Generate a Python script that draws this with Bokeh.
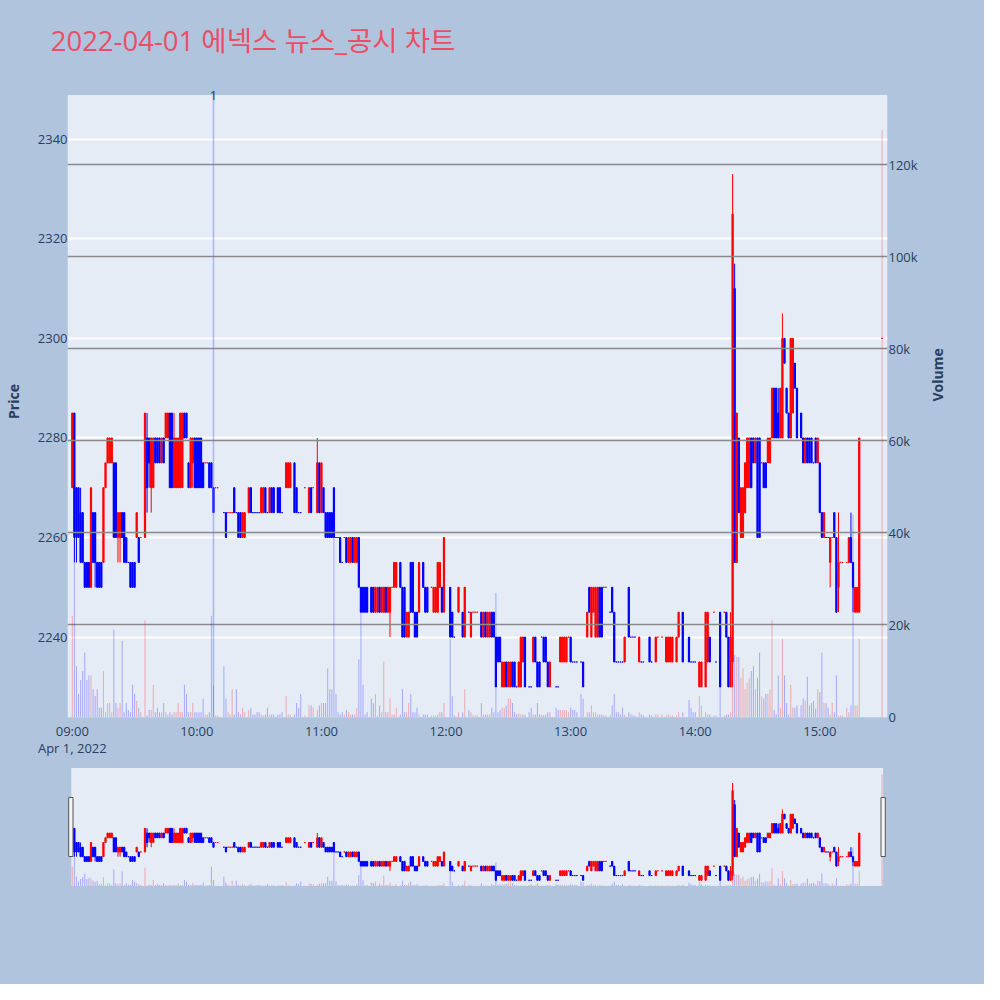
import math
from bokeh.plotting import figure
from bokeh.models import (Range1d, LinearAxis, FixedTicker, NumeralTickFormatter,
                          Label, ColumnDataSource)
from bokeh.layouts import column
from bokeh.embed import file_html
from bokeh.resources import INLINE

title_text = "2022-04-01 에넥스 뉴스_공시 차트"
price_title = "Price"
volume_title = "Volume"
tick_minutes = [0, 60, 120, 180, 240, 300, 360]
tick_labels = ["09:00\nApr 1, 2022", "10:00", "11:00", "12:00", "13:00", "14:00", "15:00"]
price_ticks = [2240, 2260, 2280, 2300, 2320, 2340]
volume_ticks = [0, 20000, 40000, 60000, 80000, 100000, 120000]
event_minutes = [68]
event_labels = ["1"]

# minutes after 09:00
minutes = [0, 1, 2, 3, 4, 5, 6, 7, 8, 9, 10, 11, 12, 13, 14, 15, 16, 17, 18, 19,
           20, 21, 22, 23, 24, 25, 26, 27, 28, 29, 30, 31, 32, 33, 35, 36, 37, 38, 39, 40,
           41, 42, 43, 44, 45, 46, 47, 48, 49, 50, 51, 52, 53, 54, 55, 56, 57, 58, 59, 60,
           61, 62, 63, 64, 65, 66, 67, 68, 69, 70, 73, 74, 75, 76, 77, 78, 79, 80, 81, 82,
           83, 85, 86, 87, 88, 89, 90, 91, 92, 93, 94, 95, 96, 97, 99, 100, 101, 103, 104, 105,
           107, 108, 109, 110, 112, 114, 115, 116, 118, 119, 120, 121, 122, 123, 124, 125, 126, 127, 128, 129,
           130, 131, 132, 133, 134, 135, 136, 137, 138, 139, 140, 141, 142, 144, 145, 146, 147, 148, 149, 150,
           151, 152, 153, 154, 155, 156, 158, 159, 160, 161, 162, 163, 164, 165, 166, 167, 169, 170, 171, 173,
           174, 175, 176, 177, 178, 179, 182, 183, 184, 186, 188, 189, 191, 192, 193, 194, 195, 197, 198, 199,
           200, 201, 202, 203, 204, 205, 206, 207, 208, 209, 210, 211, 212, 213, 214, 215, 216, 217, 218, 220,
           221, 222, 223, 224, 225, 226, 227, 228, 229, 230, 233, 234, 235, 236, 237, 238, 239, 240, 241, 242,
           243, 245, 246, 248, 249, 250, 251, 252, 253, 254, 255, 256, 257, 259, 260, 261, 262, 263, 264, 265,
           266, 268, 269, 270, 271, 273, 274, 275, 278, 279, 281, 282, 284, 286, 287, 288, 289, 291, 292, 294,
           297, 298, 299, 300, 302, 303, 305, 306, 307, 309, 310, 312, 314, 315, 316, 317, 318, 319, 320, 321,
           322, 323, 324, 325, 326, 327, 328, 329, 330, 331, 332, 333, 334, 335, 336, 337, 338, 339, 340, 341,
           342, 343, 344, 345, 346, 347, 348, 349, 351, 352, 353, 354, 355, 356, 357, 358, 359, 360, 361, 362,
           363, 364, 365, 366, 367, 368, 369, 370, 371, 373, 374, 375, 376, 377, 378, 379, 390]

opens = [2270, 2285, 2270, 2270, 2265, 2265, 2255, 2255, 2255, 2250, 2265, 2265, 2255, 2255, 2255, 2255, 2270, 2275, 2275, 2275,
         2275, 2275, 2260, 2260, 2265, 2265, 2260, 2255, 2255, 2255, 2255, 2260, 2260, 2260, 2260, 2280, 2280, 2270, 2270, 2280,
         2280, 2280, 2275, 2280, 2280, 2280, 2285, 2285, 2270, 2270, 2270, 2270, 2270, 2285, 2285, 2275, 2270, 2275, 2280, 2280,
         2280, 2280, 2275, 2275, 2275, 2275, 2275, 2270, 2270, 2270, 2265, 2265, 2265, 2265, 2265, 2270, 2265, 2265, 2265, 2260,
         2260, 2265, 2270, 2265, 2265, 2265, 2265, 2265, 2265, 2270, 2265, 2265, 2270, 2270, 2270, 2270, 2265, 2270, 2270, 2270,
         2275, 2270, 2265, 2265, 2270, 2265, 2270, 2270, 2265, 2275, 2265, 2270, 2265, 2265, 2265, 2265, 2270, 2260, 2260, 2260,
         2255, 2260, 2260, 2255, 2255, 2260, 2255, 2255, 2260, 2250, 2250, 2250, 2250, 2250, 2250, 2245, 2245, 2250, 2245, 2245,
         2250, 2245, 2245, 2250, 2250, 2250, 2255, 2250, 2250, 2240, 2240, 2255, 2255, 2245, 2245, 2245, 2255, 2250, 2250, 2250,
         2245, 2245, 2245, 2250, 2250, 2245, 2250, 2245, 2240, 2245, 2245, 2240, 2245, 2240, 2245, 2245, 2245, 2245, 2240, 2245,
         2240, 2240, 2245, 2245, 2240, 2240, 2240, 2230, 2230, 2235, 2230, 2230, 2235, 2235, 2230, 2230, 2230, 2235, 2240, 2230,
         2230, 2235, 2240, 2235, 2235, 2240, 2240, 2240, 2235, 2230, 2230, 2230, 2235, 2235, 2235, 2235, 2240, 2240, 2235, 2235,
         2235, 2235, 2235, 2240, 2250, 2240, 2245, 2240, 2240, 2250, 2250, 2250, 2250, 2245, 2250, 2245, 2235, 2235, 2235, 2235,
         2235, 2250, 2240, 2240, 2240, 2235, 2235, 2235, 2240, 2235, 2235, 2240, 2240, 2235, 2235, 2235, 2235, 2235, 2240, 2245,
         2240, 2235, 2235, 2235, 2230, 2230, 2230, 2235, 2240, 2245, 2235, 2245, 2245, 2245, 2240, 2230, 2235, 2310, 2255, 2280,
         2260, 2260, 2265, 2270, 2270, 2280, 2280, 2275, 2280, 2280, 2275, 2275, 2275, 2275, 2275, 2280, 2290, 2290, 2285, 2280,
         2280, 2300, 2290, 2285, 2280, 2285, 2295, 2290, 2285, 2280, 2275, 2280, 2280, 2280, 2275, 2280, 2275, 2275, 2265, 2260,
         2260, 2260, 2255, 2260, 2265, 2260, 2250, 2255, 2255, 2255, 2255, 2260, 2255, 2245, 2245, 2245, 2300]

highs = [2285, 2285, 2270, 2270, 2270, 2265, 2255, 2255, 2255, 2270, 2265, 2265, 2255, 2255, 2255, 2270, 2275, 2280, 2280, 2280,
         2275, 2275, 2265, 2265, 2265, 2265, 2260, 2255, 2255, 2255, 2255, 2265, 2260, 2260, 2285, 2285, 2280, 2280, 2280, 2280,
         2280, 2280, 2280, 2280, 2285, 2285, 2285, 2285, 2285, 2280, 2280, 2285, 2285, 2285, 2285, 2275, 2280, 2280, 2280, 2280,
         2280, 2280, 2275, 2275, 2275, 2275, 2275, 2270, 2270, 2270, 2265, 2265, 2265, 2265, 2265, 2270, 2265, 2265, 2265, 2265,
         2265, 2270, 2270, 2265, 2265, 2265, 2265, 2270, 2270, 2270, 2265, 2270, 2270, 2270, 2270, 2270, 2265, 2275, 2275, 2275,
         2275, 2270, 2265, 2265, 2270, 2270, 2270, 2270, 2280, 2275, 2275, 2270, 2265, 2265, 2265, 2265, 2270, 2260, 2260, 2260,
         2255, 2260, 2260, 2260, 2260, 2260, 2260, 2260, 2260, 2250, 2250, 2250, 2250, 2250, 2250, 2250, 2250, 2250, 2250, 2250,
         2250, 2250, 2250, 2250, 2255, 2255, 2255, 2250, 2250, 2245, 2245, 2255, 2255, 2245, 2245, 2255, 2255, 2250, 2250, 2250,
         2250, 2250, 2255, 2255, 2250, 2260, 2250, 2245, 2240, 2250, 2245, 2250, 2245, 2245, 2245, 2245, 2245, 2245, 2245, 2245,
         2245, 2245, 2245, 2245, 2240, 2240, 2240, 2235, 2235, 2235, 2235, 2235, 2235, 2235, 2230, 2235, 2240, 2240, 2240, 2230,
         2230, 2240, 2240, 2235, 2235, 2240, 2240, 2240, 2235, 2235, 2230, 2230, 2240, 2240, 2240, 2240, 2240, 2240, 2235, 2235,
         2235, 2235, 2235, 2245, 2250, 2250, 2250, 2250, 2250, 2250, 2250, 2250, 2250, 2245, 2250, 2245, 2235, 2235, 2235, 2235,
         2240, 2250, 2240, 2240, 2240, 2240, 2235, 2235, 2240, 2235, 2240, 2240, 2240, 2240, 2240, 2240, 2240, 2240, 2245, 2245,
         2240, 2235, 2235, 2235, 2235, 2235, 2245, 2245, 2240, 2245, 2235, 2245, 2245, 2245, 2240, 2245, 2333, 2315, 2285, 2280,
         2270, 2270, 2275, 2280, 2280, 2280, 2280, 2280, 2280, 2280, 2275, 2275, 2275, 2280, 2280, 2290, 2290, 2290, 2290, 2290,
         2305, 2300, 2290, 2285, 2300, 2300, 2295, 2290, 2285, 2280, 2280, 2280, 2280, 2280, 2275, 2280, 2280, 2275, 2265, 2265,
         2260, 2260, 2260, 2260, 2265, 2260, 2265, 2255, 2255, 2255, 2260, 2265, 2255, 2250, 2250, 2280, 2300]

lows = [2270, 2255, 2255, 2260, 2255, 2255, 2250, 2250, 2250, 2250, 2255, 2250, 2250, 2250, 2250, 2255, 2270, 2275, 2275, 2275,
        2260, 2260, 2255, 2255, 2260, 2255, 2255, 2255, 2250, 2250, 2250, 2260, 2255, 2260, 2260, 2265, 2270, 2265, 2270, 2275,
        2275, 2275, 2275, 2275, 2280, 2280, 2270, 2270, 2270, 2270, 2270, 2270, 2270, 2280, 2280, 2270, 2270, 2270, 2270, 2270,
        2270, 2270, 2270, 2275, 2275, 2270, 2270, 2265, 2270, 2270, 2265, 2260, 2265, 2265, 2265, 2265, 2265, 2260, 2260, 2260,
        2260, 2265, 2265, 2265, 2265, 2265, 2265, 2265, 2265, 2265, 2265, 2265, 2265, 2265, 2265, 2265, 2265, 2270, 2270, 2270,
        2265, 2265, 2265, 2265, 2270, 2265, 2265, 2270, 2265, 2265, 2265, 2265, 2260, 2260, 2260, 2260, 2260, 2260, 2260, 2255,
        2255, 2260, 2255, 2255, 2255, 2255, 2255, 2255, 2250, 2245, 2245, 2245, 2245, 2245, 2245, 2245, 2245, 2245, 2245, 2245,
        2245, 2245, 2240, 2250, 2250, 2250, 2250, 2240, 2240, 2240, 2240, 2245, 2245, 2240, 2240, 2245, 2250, 2245, 2245, 2250,
        2245, 2245, 2245, 2250, 2245, 2245, 2240, 2240, 2240, 2245, 2240, 2240, 2245, 2240, 2245, 2245, 2245, 2240, 2240, 2240,
        2240, 2240, 2240, 2240, 2230, 2235, 2235, 2230, 2230, 2230, 2230, 2230, 2230, 2230, 2230, 2230, 2230, 2235, 2230, 2230,
        2230, 2235, 2235, 2230, 2230, 2240, 2235, 2235, 2230, 2230, 2230, 2230, 2235, 2235, 2235, 2235, 2240, 2235, 2235, 2235,
        2235, 2235, 2230, 2240, 2245, 2240, 2245, 2240, 2240, 2240, 2240, 2250, 2250, 2245, 2245, 2235, 2235, 2235, 2235, 2235,
        2235, 2240, 2240, 2240, 2240, 2235, 2235, 2235, 2235, 2235, 2235, 2240, 2240, 2235, 2235, 2235, 2235, 2235, 2240, 2235,
        2235, 2235, 2235, 2235, 2230, 2230, 2230, 2235, 2235, 2245, 2235, 2230, 2245, 2240, 2230, 2230, 2230, 2255, 2255, 2265,
        2260, 2260, 2265, 2270, 2270, 2270, 2275, 2275, 2260, 2260, 2275, 2270, 2270, 2275, 2275, 2280, 2280, 2280, 2280, 2280,
        2280, 2295, 2285, 2280, 2280, 2285, 2290, 2280, 2280, 2275, 2275, 2275, 2275, 2275, 2275, 2275, 2275, 2265, 2260, 2260,
        2260, 2260, 2250, 2260, 2260, 2245, 2245, 2255, 2255, 2255, 2255, 2255, 2245, 2245, 2245, 2245, 2300]

closes = [2285, 2260, 2260, 2260, 2255, 2255, 2250, 2250, 2250, 2270, 2255, 2255, 2250, 2250, 2250, 2270, 2275, 2280, 2280, 2280,
          2260, 2260, 2265, 2265, 2260, 2255, 2255, 2255, 2250, 2250, 2250, 2265, 2255, 2260, 2285, 2270, 2275, 2280, 2280, 2275,
          2275, 2275, 2280, 2275, 2285, 2285, 2270, 2270, 2280, 2280, 2280, 2285, 2285, 2280, 2280, 2270, 2280, 2280, 2270, 2270,
          2270, 2270, 2270, 2275, 2275, 2270, 2270, 2265, 2270, 2270, 2265, 2260, 2265, 2265, 2265, 2265, 2265, 2260, 2260, 2265,
          2265, 2270, 2265, 2265, 2265, 2265, 2265, 2270, 2270, 2265, 2265, 2270, 2265, 2265, 2265, 2265, 2265, 2275, 2275, 2275,
          2265, 2265, 2265, 2265, 2270, 2270, 2265, 2270, 2275, 2265, 2275, 2265, 2260, 2260, 2260, 2260, 2260, 2260, 2260, 2255,
          2255, 2260, 2255, 2260, 2260, 2255, 2260, 2260, 2250, 2245, 2245, 2245, 2245, 2245, 2245, 2250, 2250, 2245, 2250, 2250,
          2245, 2250, 2250, 2250, 2255, 2255, 2250, 2240, 2240, 2245, 2245, 2245, 2245, 2240, 2240, 2255, 2250, 2245, 2245, 2250,
          2250, 2250, 2255, 2255, 2245, 2260, 2240, 2240, 2240, 2250, 2240, 2250, 2245, 2245, 2245, 2245, 2245, 2240, 2245, 2240,
          2245, 2245, 2240, 2240, 2230, 2235, 2235, 2235, 2235, 2230, 2235, 2235, 2230, 2230, 2230, 2235, 2240, 2240, 2230, 2230,
          2230, 2240, 2235, 2230, 2230, 2240, 2235, 2235, 2230, 2235, 2230, 2230, 2240, 2240, 2240, 2240, 2240, 2235, 2235, 2235,
          2235, 2235, 2230, 2245, 2245, 2250, 2250, 2250, 2250, 2240, 2240, 2250, 2250, 2245, 2245, 2235, 2235, 2235, 2235, 2235,
          2240, 2240, 2240, 2240, 2240, 2240, 2235, 2235, 2235, 2235, 2240, 2240, 2240, 2240, 2240, 2240, 2240, 2240, 2245, 2235,
          2235, 2235, 2235, 2235, 2235, 2235, 2245, 2245, 2235, 2245, 2235, 2230, 2245, 2240, 2230, 2240, 2325, 2255, 2285, 2265,
          2270, 2270, 2275, 2280, 2280, 2270, 2275, 2280, 2260, 2260, 2275, 2270, 2270, 2280, 2280, 2290, 2280, 2280, 2280, 2290,
          2300, 2295, 2285, 2280, 2300, 2300, 2290, 2280, 2280, 2275, 2280, 2275, 2275, 2275, 2275, 2275, 2280, 2265, 2260, 2265,
          2260, 2260, 2260, 2260, 2260, 2245, 2255, 2255, 2255, 2255, 2260, 2255, 2250, 2250, 2250, 2280, 2300]

# volume in thousands of shares
volumes_k = [22, 38, 11, 5, 8, 10, 14, 8, 9, 9, 6, 4.6, 6, 2, 2, 10, 1, 3, 3, 1,
             19, 3, 2, 3, 16.5, 1, 3, 1.5, 1, 7, 5, 3.5, 2, 1, 21, 0.3, 1.5, 1.5, 7, 1,
             2, 1, 1, 3, 1, 0.5, 1, 0.5, 1, 1, 3, 1, 1, 7, 5, 1, 1, 3, 1, 1,
             1, 1, 4, 0.5, 0.5, 1, 22, 7, 0.3, 0.3, 11, 4, 1, 0.5, 6, 0.5, 6, 1, 0.5, 2,
             1, 1.5, 2, 0.5, 0.5, 1, 1, 0.5, 0.3, 0.5, 2, 0.5, 0.5, 0.5, 0.5, 0.5, 1, 4.5, 0.5, 0.5,
             0.5, 3, 2, 5, 0.3, 2.5, 2.5, 2, 1.5, 2.5, 3, 3, 3, 10.5, 6, 6, 47, 5, 1, 0.5,
             1, 0.5, 1.5, 1, 0.5, 0.5, 0.5, 2, 12.5, 28, 7, 0.5, 1, 4, 3, 5, 0.3, 2.5, 1, 12,
             1, 1, 4, 0.5, 0.5, 2, 0.5, 6, 1, 1, 3, 5, 1, 1, 2, 0.5, 0.5, 0.5, 0.5, 0.3,
             0.3, 0.3, 0.5, 1, 1, 3, 17, 4.5, 0.3, 1, 1, 6, 1.5, 1, 0.3, 0.3, 0.3, 3, 0.5, 0.5,
             0.5, 0.5, 2, 1, 27, 1, 1.5, 2, 2, 2.5, 4, 4, 3, 1, 0.5, 0.8, 0.5, 0.5, 0.5, 1,
             2, 0.5, 0.5, 3, 0.5, 0.5, 0.3, 0.5, 1, 1, 2, 1.5, 1.5, 1.5, 1.5, 1.5, 1, 2, 1.5, 1.5,
             1, 5, 4, 1, 1, 2.5, 1, 1, 0.5, 0.5, 0.5, 0.3, 0.3, 0.3, 2.5, 5, 1, 1, 0.5, 2,
             0.5, 1, 0.5, 0.3, 0.3, 1, 0.5, 0.3, 0.5, 0.3, 0.5, 0.5, 0.5, 0.3, 0.5, 0.3, 0.3, 0.3, 1, 1,
             3.7, 2, 1, 1, 4.5, 2.5, 1, 0.5, 0.5, 0.3, 0.3, 10, 0.3, 0.5, 0.5, 1, 118, 13.5, 13, 13,
             8.5, 10.6, 6, 7.4, 8.5, 10, 11, 6, 8.5, 14, 4.5, 4, 5, 5, 6, 21, 1.5, 0.5, 9, 2,
             17, 9, 3, 0.5, 7, 2, 2, 2.5, 2.5, 4, 3.5, 8.7, 2.5, 3, 3.5, 1.8, 6, 5.4, 14, 3,
             3, 2, 0.5, 3, 1, 9, 0.3, 0.3, 0.3, 2, 1, 2.5, 44, 2.5, 2.5, 17, 127.5]

INC = "#ff0000"
DEC = "#0000ff"
PAPER = "#B0C4DE"
PLOTBG = "#E5ECF6"
TXT = "#2a3f5f"
FONT = "Open Sans"
TITLE_COLOR = "#EB4E64"

# candle direction (Plotly-like: flat candles follow previous close)
colors = []
prev_c = None
prev_up = True
for o, c in zip(opens, closes):
    if c > o:
        up = True
    elif c < o:
        up = False
    elif prev_c is None:
        up = True
    elif c > prev_c:
        up = True
    elif c < prev_c:
        up = False
    else:
        up = prev_up
    colors.append(INC if up else DEC)
    prev_c, prev_up = c, up

src = ColumnDataSource(dict(
    x=minutes,
    top=[max(o, c) for o, c in zip(opens, closes)],
    bottom=[min(o, c) for o, c in zip(opens, closes)],
    high=highs, low=lows, color=colors,
    vol=[v * 1000 for v in volumes_k],
))

# ---------------- layout geometry (pixels of the whole layout) ----------------
W = 984
TITLE_H = 85                             # title strip spans 0..85
MAIN_B = 766                             # main figure spans 85..766
SLD_TOP = MAIN_B                         # slider figure spans 766..984
SLD_H = W - SLD_TOP
FR_L, FR_R = 67, 887                     # plot frame left/right
M_FT, M_FB = TITLE_H, 717                # main frame top/bottom
PLOT_TOP = 94.5                          # top edge of the plot background
X_09, PX_MIN = 71.8, 2.0764              # 09:00 position, px per minute
Y_2340, PPU = 138.7, 4.979               # price 2340 position, px per won
Y_V0, PPS = 716.4, 0.0046008             # volume 0 position, px per share


def x_at(px):
    return (px - X_09) / PX_MIN


def price_at(py):
    return 2340 + (Y_2340 - py) / PPU


def vol_at(py):
    return (Y_V0 - py) / PPS


X0, X1 = x_at(FR_L), x_at(FR_R)
P_BOT, P_TOP = price_at(M_FB), price_at(M_FT)
P_PLOT_TOP = price_at(PLOT_TOP)
V_BOT, V_TOP = vol_at(M_FB), vol_at(M_FT)

# ---------------- title strip ----------------
pt = figure(width=W, height=TITLE_H, x_range=Range1d(0, 1), y_range=Range1d(0, 1),
            output_backend="svg", toolbar_location=None, tools="",
            x_axis_location=None, y_axis_location=None,
            min_border_left=FR_L, min_border_right=W - FR_R,
            min_border_top=0, min_border_bottom=0)
pt.background_fill_color = PAPER
pt.border_fill_color = PAPER
pt.outline_line_color = None
pt.grid.visible = False
pt.title.text = title_text
pt.title.text_font = "Open Sans, Noto Sans CJK KR"
pt.title.text_font_size = "27.5px"
pt.title.text_font_style = "normal"
pt.title.text_color = TITLE_COLOR
pt.title.align = "left"
pt.title.offset = 50.2 - FR_L
pt.title.vertical_align = "top"
pt.title.standoff = 42

# ---------------- main chart ----------------
p = figure(width=W, height=MAIN_B - TITLE_H, x_range=Range1d(X0, X1),
           y_range=Range1d(P_BOT, P_TOP),
           output_backend="svg", toolbar_location=None, tools="",
           min_border_left=FR_L, min_border_right=W - FR_R,
           min_border_top=0, min_border_bottom=MAIN_B - M_FB)
p.background_fill_color = PAPER
p.border_fill_color = PAPER
p.outline_line_color = None
p.extra_y_ranges = {"vol": Range1d(V_BOT, V_TOP)}
p.add_layout(LinearAxis(y_range_name="vol"), "right")

for ax in p.axis:
    ax.axis_line_color = None
    ax.major_tick_line_color = None
    ax.minor_tick_line_color = None
    ax.major_tick_out = 0
    ax.major_tick_in = 0
    ax.minor_tick_out = 0
    ax.minor_tick_in = 0
    ax.major_label_text_font = FONT
    ax.major_label_text_font_size = "13px"
    ax.major_label_text_color = TXT
    ax.axis_label_text_font = FONT
    ax.axis_label_text_font_size = "14px"
    ax.axis_label_text_font_style = "bold"
    ax.axis_label_text_color = TXT

p.xaxis.ticker = FixedTicker(ticks=tick_minutes)
p.xaxis.major_label_overrides = {m: t for m, t in zip(tick_minutes, tick_labels)}
p.xaxis.major_label_standoff = 4
p.xaxis.major_label_text_line_height = 0.95

left_ax = p.left[0]
left_ax.ticker = FixedTicker(ticks=price_ticks)
left_ax.major_label_standoff = 0
left_ax.axis_label = price_title
left_ax.axis_label_standoff = 12

right_ax = p.right[0]
right_ax.ticker = FixedTicker(ticks=volume_ticks)
right_ax.formatter = NumeralTickFormatter(format="0a")
right_ax.major_label_standoff = 1
right_ax.axis_label = volume_title
right_ax.axis_label_standoff = 17
right_ax.axis_label_orientation = math.pi / 2

p.xgrid.visible = False
p.ygrid.visible = False

# plot background (frame extends a little above it for the event label)
p.quad(left=[X0], right=[X1], top=[P_PLOT_TOP], bottom=[P_BOT],
       fill_color=PLOTBG, line_color=None)
p.hspan(y=price_ticks, line_color="white", line_width=2)


def draw_candles(fig):
    fig.segment(x0="x", y0="low", x1="x", y1="high", line_color="color",
                line_width=1, source=src)
    fig.vbar(x="x", width=0.6, top="top", bottom="bottom", fill_color="color",
             line_color="color", line_width=1, source=src)


def draw_volume(fig):
    fig.vbar(x="x", width=0.5, top="vol", bottom=0, fill_color="color",
             fill_alpha=0.28, line_color=None, y_range_name="vol", source=src)


draw_candles(p)
p.hspan(y=volume_ticks[1:], y_range_name="vol", line_color="#8a8a8a", line_width=1.3)
draw_volume(p)

for m, t in zip(event_minutes, event_labels):
    p.segment(x0=[m], y0=[P_BOT], x1=[m], y1=[price_at(91.5)],
              line_color="#636efa", line_alpha=0.45, line_width=1.5)
    p.add_layout(Label(x=m, y=price_at(95.3), text=t, text_align="center",
                       text_baseline="middle", text_font=FONT, text_font_size="13px",
                       text_color=TXT))

# ---------------- range slider ----------------
SB_T, SB_B = 767.5, 885.6          # slider background top/bottom
SB_L, SB_R = 70.8, 882.6           # slider background left/right
S_FT, S_FB = SLD_TOP, 890          # slider frame top/bottom
sppu = (SB_B - SB_T) / (P_PLOT_TOP - P_BOT)
svps = (SB_B - SB_T) / (vol_at(PLOT_TOP) - V_BOT)


def sprice_at(py):
    return P_PLOT_TOP - (py - SB_T) / sppu


def svol_at(py):
    return V_BOT + (SB_B - py) / svps


p2 = figure(width=W, height=SLD_H, x_range=Range1d(X0, X1),
            y_range=Range1d(sprice_at(S_FB), sprice_at(S_FT)),
            output_backend="svg", toolbar_location=None, tools="",
            x_axis_location=None, y_axis_location=None,
            min_border_left=FR_L, min_border_right=W - FR_R,
            min_border_top=S_FT - SLD_TOP, min_border_bottom=W - S_FB)
p2.background_fill_color = PAPER
p2.border_fill_color = PAPER
p2.outline_line_color = None
p2.grid.visible = False
p2.extra_y_ranges = {"vol": Range1d(svol_at(S_FB), svol_at(S_FT))}

p2.quad(left=[x_at(SB_L)], right=[x_at(SB_R)], top=[sprice_at(SB_T)], bottom=[sprice_at(SB_B)],
        fill_color=PLOTBG, line_color=None)
draw_candles(p2)
draw_volume(p2)
p2.quad(left=[x_at(68.2), x_at(880.5)], right=[x_at(72.5), x_at(884.8)],
        top=[sprice_at(797)] * 2, bottom=[sprice_at(856)] * 2,
        fill_color="#f4f4f4", line_color="#555555", line_width=1)

layout = column(pt, p, p2, spacing=0, styles={"background-color": PAPER})
open("out.html", "w").write(file_html(layout, INLINE))
